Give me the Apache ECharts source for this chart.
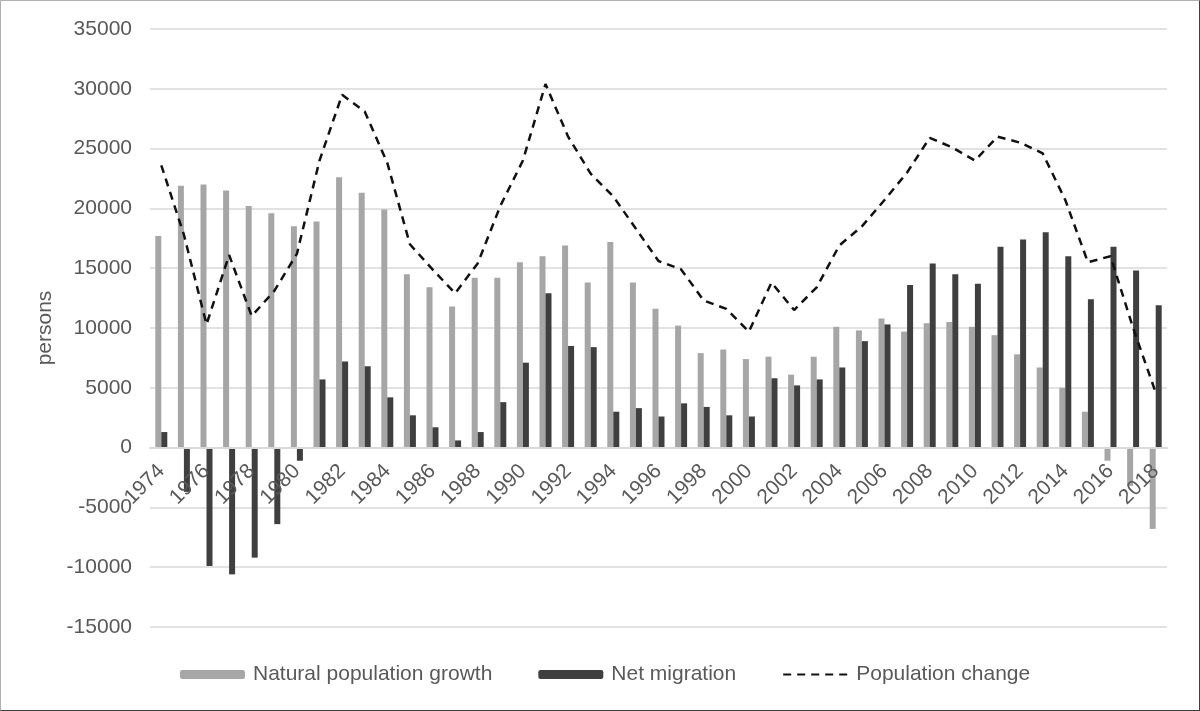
<!DOCTYPE html>
<html>
<head>
<meta charset="utf-8">
<title>Population change</title>
<script src="https://cdn.jsdelivr.net/npm/echarts@6/dist/echarts.min.js"></script>
<style>
	html, body { margin: 0; padding: 0; background: #fff; }
	#main {
		width: 1198px; height: 709px;
		border-top: 1px solid #b0b0b0; border-left: 1px solid #b0b0b0;
		border-right: 1px solid #404040; border-bottom: 1px solid #404040;
	}
</style>
</head>
<body>
<div id="main"></div>
<script>
var years = ['1974', '1975', '1976', '1977', '1978', '1979', '1980', '1981', '1982', '1983',
	'1984', '1985', '1986', '1987', '1988', '1989', '1990', '1991', '1992', '1993',
	'1994', '1995', '1996', '1997', '1998', '1999', '2000', '2001', '2002', '2003',
	'2004', '2005', '2006', '2007', '2008', '2009', '2010', '2011', '2012', '2013',
	'2014', '2015', '2016', '2017', '2018'];
// 自然增长
var natural = [17700, 21900, 22000, 21500, 20200, 19600, 18500, 18900, 22600, 21300,
	19900, 14500, 13400, 11800, 14200, 14200, 15500, 16000, 16900, 13800,
	17200, 13800, 11600, 10200, 7900, 8200, 7400, 7600, 6100, 7600,
	10100, 9800, 10800, 9700, 10400, 10500, 10100, 9400, 7800, 6700,
	5000, 3000, -1100, -3200, -6800];
// 净迁移
var migration = [1300, -3700, -9900, -10600, -9200, -6400, -1100, 5700, 7200, 6800,
	4200, 2700, 1700, 600, 1300, 3800, 7100, 12900, 8500, 8400,
	3000, 3300, 2600, 3700, 3400, 2700, 2600, 5800, 5200, 5700,
	6700, 8900, 10300, 13600, 15400, 14500, 13700, 16800, 17400, 18000,
	16000, 12400, 16800, 14800, 11900];
// 人口变化
var change = [23600, 17800, 10300, 16100, 11000, 13100, 16200, 24000, 29500, 28100,
	23800, 17000, 14900, 12900, 15400, 20200, 24000, 30400, 26000, 22900,
	21000, 18300, 15600, 14900, 12300, 11600, 9700, 13800, 11500, 13400,
	16900, 18500, 20700, 23000, 25900, 25100, 24000, 26000, 25500, 24600,
	20700, 15500, 16000, 10000, 4600];

var yMin = -15000, yMax = 35000;
var gridTop = 28, gridBottom = 83, chartH = 709;
// 类目轴放在0线上（向上平移）
var plotH = chartH - gridTop - gridBottom;
var zeroShift = -Math.round(plotH * (0 - yMin) / (yMax - yMin));

var font = "'Liberation Sans', Arial, sans-serif";
var myChart = echarts.init(document.getElementById('main'));
var option = {
	animation: false,
	textStyle: { fontFamily: font },
	grid: { left: 149, right: 32, top: gridTop, bottom: gridBottom },
	legend: {
		left: 174,
		top: 658,
		itemWidth: 65,
		itemHeight: 9,
		itemGap: 46,
		textStyle: { fontSize: 21, color: '#595959', fontFamily: font, padding: [0, 0, 0, 3] },
		data: [
			'Natural population growth',
			'Net migration',
			{ name: 'Population change', itemStyle: { opacity: 0 } }
		]
	},
	xAxis: {
		type: 'category',
		data: years,
		z: 5,
		offset: zeroShift,
		axisTick: { show: false },
		axisLine: { onZero: false, lineStyle: { color: '#d9d9d9', width: 2 } },
		axisLabel: {
			interval: 1,
			rotate: 45,
			margin: 20,
			fontSize: 21,
			color: '#595959',
			fontFamily: font
		}
	},
	yAxis: {
		type: 'value',
		min: yMin,
		max: yMax,
		interval: 5000,
		name: 'persons',
		nameLocation: 'middle',
		nameGap: 90,
		nameTextStyle: { fontSize: 21, color: '#595959', fontFamily: font },
		axisLine: { show: false },
		axisTick: { show: false },
		splitLine: { lineStyle: { color: '#d9d9d9', width: 1.5 } },
		axisLabel: {
			margin: 18,
			fontSize: 21,
			color: '#595959',
			fontFamily: font,
			formatter: function (v) { return String(v); }
		}
	},
	series: [
		{
			name: 'Natural population growth',
			type: 'bar',
			data: natural,
			barWidth: 6,
			barGap: '0%',
			itemStyle: { color: '#a6a6a6' }
		},
		{
			name: 'Net migration',
			type: 'bar',
			data: migration,
			barWidth: 6,
			itemStyle: { color: '#3f3f3f' }
		},
		{
			name: 'Population change',
			type: 'line',
			data: change,
			symbol: 'none',
			z: 4,
			itemStyle: { color: '#111' },
			lineStyle: { color: '#111', width: 2.5, type: [8, 6] }
		}
	]
};
myChart.setOption(option);
</script>
</body>
</html>
